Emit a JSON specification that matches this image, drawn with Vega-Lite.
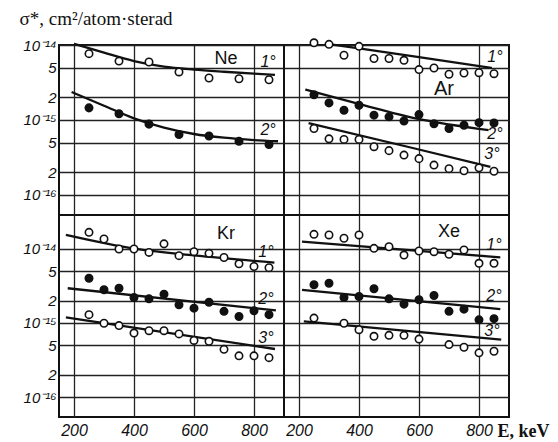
{
"$schema": "https://vega.github.io/schema/vega-lite/v6.json",
"background": "white",
"padding": {"left": 18, "top": 8, "right": 0, "bottom": 0},
"config": {
  "font": "Liberation Sans",
  "view": {"stroke": "#111", "strokeWidth": 2},
  "axis": {"gridColor": "#222", "gridOpacity": 1, "gridWidth": 1.3, "labelColor": "#111", "labelFont": "Liberation Sans", "labelFontStyle": "italic", "labelFontWeight": "normal", "labelOverlap": false, "labelFlush": false, "ticks": false, "domain": false, "grid": true}
},
"datasets": {
  "points": [
    {"gas":"Ne","angle":"1°","E":250,"sigma":7.66e-15},{"gas":"Ne","angle":"1°","E":350,"sigma":6.1e-15},{"gas":"Ne","angle":"1°","E":450,"sigma":5.93e-15},{"gas":"Ne","angle":"1°","E":550,"sigma":4.37e-15},{"gas":"Ne","angle":"1°","E":650,"sigma":3.63e-15},{"gas":"Ne","angle":"1°","E":750,"sigma":3.55e-15},{"gas":"Ne","angle":"1°","E":850,"sigma":3.44e-15},
    {"gas":"Ne","angle":"2°","E":250,"sigma":1.45e-15},{"gas":"Ne","angle":"2°","E":350,"sigma":1.21e-15},{"gas":"Ne","angle":"2°","E":450,"sigma":8.8e-16},{"gas":"Ne","angle":"2°","E":550,"sigma":6.4e-16},{"gas":"Ne","angle":"2°","E":650,"sigma":6.1e-16},{"gas":"Ne","angle":"2°","E":750,"sigma":5.2e-16},{"gas":"Ne","angle":"2°","E":850,"sigma":4.7e-16},

    {"gas":"Ar","angle":"1°","E":250,"sigma":1.07e-14},{"gas":"Ar","angle":"1°","E":300,"sigma":1.02e-14},{"gas":"Ar","angle":"1°","E":350,"sigma":7.3e-15},{"gas":"Ar","angle":"1°","E":400,"sigma":9.6e-15},{"gas":"Ar","angle":"1°","E":450,"sigma":6.6e-15},{"gas":"Ar","angle":"1°","E":500,"sigma":6.6e-15},{"gas":"Ar","angle":"1°","E":550,"sigma":6.25e-15},{"gas":"Ar","angle":"1°","E":600,"sigma":4.7e-15},{"gas":"Ar","angle":"1°","E":650,"sigma":4.93e-15},{"gas":"Ar","angle":"1°","E":700,"sigma":4.07e-15},{"gas":"Ar","angle":"1°","E":750,"sigma":4.23e-15},{"gas":"Ar","angle":"1°","E":800,"sigma":4.27e-15},{"gas":"Ar","angle":"1°","E":850,"sigma":4.14e-15},
    {"gas":"Ar","angle":"2°","E":250,"sigma":2.17e-15},{"gas":"Ar","angle":"2°","E":300,"sigma":1.69e-15},{"gas":"Ar","angle":"2°","E":350,"sigma":1.35e-15},{"gas":"Ar","angle":"2°","E":400,"sigma":1.57e-15},{"gas":"Ar","angle":"2°","E":450,"sigma":1.16e-15},{"gas":"Ar","angle":"2°","E":500,"sigma":1.1e-15},{"gas":"Ar","angle":"2°","E":550,"sigma":9.7e-16},{"gas":"Ar","angle":"2°","E":600,"sigma":1.18e-15},{"gas":"Ar","angle":"2°","E":650,"sigma":8.9e-16},{"gas":"Ar","angle":"2°","E":700,"sigma":7.7e-16},{"gas":"Ar","angle":"2°","E":750,"sigma":8.5e-16},{"gas":"Ar","angle":"2°","E":800,"sigma":9.2e-16},{"gas":"Ar","angle":"2°","E":850,"sigma":9.1e-16},
    {"gas":"Ar","angle":"3°","E":250,"sigma":7.7e-16},{"gas":"Ar","angle":"3°","E":300,"sigma":5.6e-16},{"gas":"Ar","angle":"3°","E":350,"sigma":5.5e-16},{"gas":"Ar","angle":"3°","E":400,"sigma":5.5e-16},{"gas":"Ar","angle":"3°","E":450,"sigma":4.4e-16},{"gas":"Ar","angle":"3°","E":500,"sigma":3.9e-16},{"gas":"Ar","angle":"3°","E":550,"sigma":3.4e-16},{"gas":"Ar","angle":"3°","E":600,"sigma":3.05e-16},{"gas":"Ar","angle":"3°","E":650,"sigma":2.5e-16},{"gas":"Ar","angle":"3°","E":700,"sigma":2.24e-16},{"gas":"Ar","angle":"3°","E":750,"sigma":2.1e-16},{"gas":"Ar","angle":"3°","E":800,"sigma":2.3e-16},{"gas":"Ar","angle":"3°","E":850,"sigma":2.07e-16},

    {"gas":"Kr","angle":"1°","E":250,"sigma":1.66e-14},{"gas":"Kr","angle":"1°","E":300,"sigma":1.35e-14},{"gas":"Kr","angle":"1°","E":350,"sigma":9.9e-15},{"gas":"Kr","angle":"1°","E":400,"sigma":9.9e-15},{"gas":"Kr","angle":"1°","E":450,"sigma":8.9e-15},{"gas":"Kr","angle":"1°","E":500,"sigma":1.16e-14},{"gas":"Kr","angle":"1°","E":550,"sigma":8.05e-15},{"gas":"Kr","angle":"1°","E":600,"sigma":9.1e-15},{"gas":"Kr","angle":"1°","E":650,"sigma":8.65e-15},{"gas":"Kr","angle":"1°","E":700,"sigma":7.6e-15},{"gas":"Kr","angle":"1°","E":750,"sigma":6.25e-15},{"gas":"Kr","angle":"1°","E":800,"sigma":5.75e-15},{"gas":"Kr","angle":"1°","E":850,"sigma":5.55e-15},
    {"gas":"Kr","angle":"2°","E":250,"sigma":4.0e-15},{"gas":"Kr","angle":"2°","E":300,"sigma":2.8e-15},{"gas":"Kr","angle":"2°","E":350,"sigma":2.93e-15},{"gas":"Kr","angle":"2°","E":400,"sigma":2.2e-15},{"gas":"Kr","angle":"2°","E":450,"sigma":2.11e-15},{"gas":"Kr","angle":"2°","E":500,"sigma":2.44e-15},{"gas":"Kr","angle":"2°","E":550,"sigma":1.75e-15},{"gas":"Kr","angle":"2°","E":600,"sigma":1.58e-15},{"gas":"Kr","angle":"2°","E":650,"sigma":1.9e-15},{"gas":"Kr","angle":"2°","E":700,"sigma":1.43e-15},{"gas":"Kr","angle":"2°","E":750,"sigma":1.22e-15},{"gas":"Kr","angle":"2°","E":800,"sigma":1.46e-15},{"gas":"Kr","angle":"2°","E":850,"sigma":1.29e-15},
    {"gas":"Kr","angle":"3°","E":250,"sigma":1.29e-15},{"gas":"Kr","angle":"3°","E":300,"sigma":9.9e-16},{"gas":"Kr","angle":"3°","E":350,"sigma":9.2e-16},{"gas":"Kr","angle":"3°","E":400,"sigma":7.3e-16},{"gas":"Kr","angle":"3°","E":450,"sigma":7.85e-16},{"gas":"Kr","angle":"3°","E":500,"sigma":7.85e-16},{"gas":"Kr","angle":"3°","E":550,"sigma":7.1e-16},{"gas":"Kr","angle":"3°","E":600,"sigma":5.8e-16},{"gas":"Kr","angle":"3°","E":650,"sigma":5.65e-16},{"gas":"Kr","angle":"3°","E":700,"sigma":4.4e-16},{"gas":"Kr","angle":"3°","E":750,"sigma":3.6e-16},{"gas":"Kr","angle":"3°","E":800,"sigma":3.6e-16},{"gas":"Kr","angle":"3°","E":850,"sigma":3.4e-16},

    {"gas":"Xe","angle":"1°","E":250,"sigma":1.56e-14},{"gas":"Xe","angle":"1°","E":300,"sigma":1.53e-14},{"gas":"Xe","angle":"1°","E":350,"sigma":1.38e-14},{"gas":"Xe","angle":"1°","E":400,"sigma":1.53e-14},{"gas":"Xe","angle":"1°","E":450,"sigma":1.01e-14},{"gas":"Xe","angle":"1°","E":500,"sigma":1.06e-14},{"gas":"Xe","angle":"1°","E":550,"sigma":8.2e-15},{"gas":"Xe","angle":"1°","E":600,"sigma":9.3e-15},{"gas":"Xe","angle":"1°","E":650,"sigma":9.1e-15},{"gas":"Xe","angle":"1°","E":700,"sigma":8.4e-15},{"gas":"Xe","angle":"1°","E":750,"sigma":9.6e-15},{"gas":"Xe","angle":"1°","E":800,"sigma":6.35e-15},{"gas":"Xe","angle":"1°","E":850,"sigma":6.35e-15},
    {"gas":"Xe","angle":"2°","E":250,"sigma":3.26e-15},{"gas":"Xe","angle":"2°","E":300,"sigma":3.42e-15},{"gas":"Xe","angle":"2°","E":350,"sigma":2.2e-15},{"gas":"Xe","angle":"2°","E":400,"sigma":2.27e-15},{"gas":"Xe","angle":"2°","E":450,"sigma":2.88e-15},{"gas":"Xe","angle":"2°","E":500,"sigma":2.11e-15},{"gas":"Xe","angle":"2°","E":550,"sigma":1.79e-15},{"gas":"Xe","angle":"2°","E":600,"sigma":2.05e-15},{"gas":"Xe","angle":"2°","E":650,"sigma":2.34e-15},{"gas":"Xe","angle":"2°","E":700,"sigma":1.43e-15},{"gas":"Xe","angle":"2°","E":750,"sigma":1.53e-15},{"gas":"Xe","angle":"2°","E":800,"sigma":1.1e-15},{"gas":"Xe","angle":"2°","E":850,"sigma":1.14e-15},
    {"gas":"Xe","angle":"3°","E":250,"sigma":1.16e-15},{"gas":"Xe","angle":"3°","E":350,"sigma":9.9e-16},{"gas":"Xe","angle":"3°","E":400,"sigma":8.1e-16},{"gas":"Xe","angle":"3°","E":450,"sigma":6.6e-16},{"gas":"Xe","angle":"3°","E":500,"sigma":6.8e-16},{"gas":"Xe","angle":"3°","E":550,"sigma":6.8e-16},{"gas":"Xe","angle":"3°","E":600,"sigma":6.05e-16},{"gas":"Xe","angle":"3°","E":700,"sigma":5.1e-16},{"gas":"Xe","angle":"3°","E":750,"sigma":4.7e-16},{"gas":"Xe","angle":"3°","E":800,"sigma":3.95e-16},{"gas":"Xe","angle":"3°","E":850,"sigma":4.15e-16}
  ],
  "curves": [
    {"gas":"Ne","angle":"1°","E":200,"sigma":1.04e-14},{"gas":"Ne","angle":"1°","E":300,"sigma":7.9e-15},{"gas":"Ne","angle":"1°","E":400,"sigma":6.1e-15},{"gas":"Ne","angle":"1°","E":500,"sigma":5.15e-15},{"gas":"Ne","angle":"1°","E":600,"sigma":4.7e-15},{"gas":"Ne","angle":"1°","E":700,"sigma":4.4e-15},{"gas":"Ne","angle":"1°","E":800,"sigma":4.15e-15},{"gas":"Ne","angle":"1°","E":870,"sigma":4.0e-15},
    {"gas":"Ne","angle":"2°","E":192,"sigma":2.36e-15},{"gas":"Ne","angle":"2°","E":300,"sigma":1.55e-15},{"gas":"Ne","angle":"2°","E":400,"sigma":1.05e-15},{"gas":"Ne","angle":"2°","E":500,"sigma":7.9e-16},{"gas":"Ne","angle":"2°","E":600,"sigma":6.5e-16},{"gas":"Ne","angle":"2°","E":700,"sigma":5.8e-16},{"gas":"Ne","angle":"2°","E":800,"sigma":5.4e-16},{"gas":"Ne","angle":"2°","E":880,"sigma":5.2e-16},
    {"gas":"Ar","angle":"1°","E":288,"sigma":1.04e-14},{"gas":"Ar","angle":"1°","E":400,"sigma":9.0e-15},{"gas":"Ar","angle":"1°","E":600,"sigma":6.9e-15},{"gas":"Ar","angle":"1°","E":843,"sigma":4.93e-15},
    {"gas":"Ar","angle":"2°","E":221,"sigma":2.54e-15},{"gas":"Ar","angle":"2°","E":396,"sigma":1.65e-15},{"gas":"Ar","angle":"2°","E":593,"sigma":1.04e-15},{"gas":"Ar","angle":"2°","E":832,"sigma":7.3e-16},
    {"gas":"Ar","angle":"3°","E":232,"sigma":9.1e-16},{"gas":"Ar","angle":"3°","E":593,"sigma":4.1e-16},{"gas":"Ar","angle":"3°","E":838,"sigma":2.36e-16},
    {"gas":"Kr","angle":"1°","E":173,"sigma":1.53e-14},{"gas":"Kr","angle":"1°","E":401,"sigma":1.0e-14},{"gas":"Kr","angle":"1°","E":600,"sigma":8.1e-15},{"gas":"Kr","angle":"1°","E":868,"sigma":6.5e-15},
    {"gas":"Kr","angle":"2°","E":179,"sigma":2.93e-15},{"gas":"Kr","angle":"2°","E":873,"sigma":1.47e-15},
    {"gas":"Kr","angle":"3°","E":173,"sigma":1.19e-15},{"gas":"Kr","angle":"3°","E":870,"sigma":4.45e-16},
    {"gas":"Xe","angle":"1°","E":210,"sigma":1.24e-14},{"gas":"Xe","angle":"1°","E":871,"sigma":7.64e-15},
    {"gas":"Xe","angle":"2°","E":210,"sigma":2.79e-15},{"gas":"Xe","angle":"2°","E":871,"sigma":1.53e-15},
    {"gas":"Xe","angle":"3°","E":216,"sigma":1.05e-15},{"gas":"Xe","angle":"3°","E":874,"sigma":5.94e-16}
  ],
  "labels": [
    {"gas":"Ne","kind":"gas","text":"Ne","E":707,"sigma":6.5e-15},
    {"gas":"Ne","kind":"angle","text":"1°","E":847,"sigma":5.9e-15},
    {"gas":"Ne","kind":"angle","text":"2°","E":847,"sigma":7.4e-16},
    {"gas":"Ar","kind":"gas","text":"Ar","E":683,"sigma":2.6e-15},
    {"gas":"Ar","kind":"angle","text":"1°","E":853,"sigma":6.9e-15},
    {"gas":"Ar","kind":"angle","text":"2°","E":853,"sigma":6.5e-16},
    {"gas":"Ar","kind":"angle","text":"3°","E":843,"sigma":3.5e-16},
    {"gas":"Kr","kind":"gas","text":"Kr","E":707,"sigma":1.59e-14},
    {"gas":"Kr","kind":"angle","text":"1°","E":840,"sigma":9.1e-15},
    {"gas":"Kr","kind":"angle","text":"2°","E":840,"sigma":2.07e-15},
    {"gas":"Kr","kind":"angle","text":"3°","E":840,"sigma":6.2e-16},
    {"gas":"Xe","kind":"gas","text":"Xe","E":700,"sigma":1.69e-14},
    {"gas":"Xe","kind":"angle","text":"1°","E":850,"sigma":1.13e-14},
    {"gas":"Xe","kind":"angle","text":"2°","E":850,"sigma":2.27e-15},
    {"gas":"Xe","kind":"angle","text":"3°","E":843,"sigma":7.7e-16}
  ]
},
"columns": 2,
"spacing": 0,
"bounds": "flush",
"concat": [
  {
    "width": 225, "height": 170,
    "encoding": {
      "x": {"field": "E", "type": "quantitative", "scale": {"domain": [150, 900], "nice": false, "zero": false}, "axis": {"values": [200, 400, 600, 800], "labels": false, "title": null}},
      "y": {"field": "sigma", "type": "quantitative", "scale": {"type": "log", "domain": [5.4e-17, 1e-14], "nice": false}, "axis": {"values": [1e-16, 2e-16, 5e-16, 1e-15, 2e-15, 5e-15, 1e-14], "labelExpr": "datum.value > 9e-15 ? '10⁻¹⁴' : datum.value > 4e-15 ? '5\u2002' : datum.value > 1.5e-15 ? '2\u2002' : datum.value > 9e-16 ? '10⁻¹⁵' : datum.value > 4e-16 ? '5\u2002' : datum.value > 1.5e-16 ? '2\u2002' : '10⁻¹⁶'", "labelFontSize": 15, "labelPadding": 3, "title": "σ*, cm²/atom·sterad", "titleAngle": 0, "titleAlign": "left", "titleBaseline": "alphabetic", "titleX": -40, "titleY": -21, "titleFont": "Liberation Serif", "titleFontSize": 19, "titleFontWeight": "normal", "titleColor": "#111"}}
    },
    "layer": [
      {"data": {"name": "curves"}, "transform": [{"filter": "datum.gas === 'Ne'"}], "mark": {"type": "line", "color": "#111", "strokeWidth": 2.3, "interpolate": "monotone"}, "encoding": {"detail": {"field": "angle"}}},
      {"data": {"name": "points"}, "transform": [{"filter": "datum.gas === 'Ne'"}], "mark": {"type": "point", "shape": "circle", "filled": true, "size": 55, "stroke": "#111", "strokeWidth": 1.6, "opacity": 1}, "encoding": {"fill": {"field": "angle", "type": "nominal", "scale": {"domain": ["1°", "2°", "3°"], "range": ["white", "#111", "white"]}, "legend": null}}},
      {"data": {"name": "labels"}, "transform": [{"filter": "datum.gas === 'Ne' && datum.kind === 'gas'"}], "mark": {"type": "text", "fontSize": 18, "color": "#111"}, "encoding": {"text": {"field": "text"}}},
      {"data": {"name": "labels"}, "transform": [{"filter": "datum.gas === 'Ne' && datum.kind === 'angle'"}], "mark": {"type": "text", "fontSize": 16, "fontStyle": "italic", "color": "#111"}, "encoding": {"text": {"field": "text"}}}
    ]
  },
  {
    "width": 225, "height": 170,
    "encoding": {
      "x": {"field": "E", "type": "quantitative", "scale": {"domain": [150, 900], "nice": false, "zero": false}, "axis": {"values": [200, 400, 600, 800], "labels": false, "title": null}},
      "y": {"field": "sigma", "type": "quantitative", "scale": {"type": "log", "domain": [5.4e-17, 1e-14], "nice": false}, "axis": {"values": [1e-16, 2e-16, 5e-16, 1e-15, 2e-15, 5e-15, 1e-14], "labels": false, "title": null}}
    },
    "layer": [
      {"data": {"name": "curves"}, "transform": [{"filter": "datum.gas === 'Ar'"}], "mark": {"type": "line", "color": "#111", "strokeWidth": 2.3, "interpolate": "monotone"}, "encoding": {"detail": {"field": "angle"}}},
      {"data": {"name": "points"}, "transform": [{"filter": "datum.gas === 'Ar'"}], "mark": {"type": "point", "shape": "circle", "filled": true, "size": 55, "stroke": "#111", "strokeWidth": 1.6, "opacity": 1}, "encoding": {"fill": {"field": "angle", "type": "nominal", "scale": {"domain": ["1°", "2°", "3°"], "range": ["white", "#111", "white"]}, "legend": null}}},
      {"data": {"name": "labels"}, "transform": [{"filter": "datum.gas === 'Ar' && datum.kind === 'gas'"}], "mark": {"type": "text", "fontSize": 20, "color": "#111"}, "encoding": {"text": {"field": "text"}}},
      {"data": {"name": "labels"}, "transform": [{"filter": "datum.gas === 'Ar' && datum.kind === 'angle'"}], "mark": {"type": "text", "fontSize": 16, "fontStyle": "italic", "color": "#111"}, "encoding": {"text": {"field": "text"}}}
    ]
  },
  {
    "width": 225, "height": 202,
    "encoding": {
      "x": {"field": "E", "type": "quantitative", "scale": {"domain": [150, 900], "nice": false, "zero": false}, "axis": {"values": [200, 400, 600, 800], "labelFontSize": 16, "labelPadding": 5, "title": null}},
      "y": {"field": "sigma", "type": "quantitative", "scale": {"type": "log", "domain": [5.4e-17, 2.84e-14], "nice": false}, "axis": {"values": [1e-16, 2e-16, 5e-16, 1e-15, 2e-15, 5e-15, 1e-14], "labelExpr": "datum.value > 9e-15 ? '10⁻¹⁴' : datum.value > 4e-15 ? '5\u2002' : datum.value > 1.5e-15 ? '2\u2002' : datum.value > 9e-16 ? '10⁻¹⁵' : datum.value > 4e-16 ? '5\u2002' : datum.value > 1.5e-16 ? '2\u2002' : '10⁻¹⁶'", "labelFontSize": 15, "labelPadding": 3, "title": null}}
    },
    "layer": [
      {"data": {"name": "curves"}, "transform": [{"filter": "datum.gas === 'Kr'"}], "mark": {"type": "line", "color": "#111", "strokeWidth": 2.3, "interpolate": "monotone"}, "encoding": {"detail": {"field": "angle"}}},
      {"data": {"name": "points"}, "transform": [{"filter": "datum.gas === 'Kr'"}], "mark": {"type": "point", "shape": "circle", "filled": true, "size": 55, "stroke": "#111", "strokeWidth": 1.6, "opacity": 1}, "encoding": {"fill": {"field": "angle", "type": "nominal", "scale": {"domain": ["1°", "2°", "3°"], "range": ["white", "#111", "white"]}, "legend": null}}},
      {"data": {"name": "labels"}, "transform": [{"filter": "datum.gas === 'Kr' && datum.kind === 'gas'"}], "mark": {"type": "text", "fontSize": 18, "color": "#111"}, "encoding": {"text": {"field": "text"}}},
      {"data": {"name": "labels"}, "transform": [{"filter": "datum.gas === 'Kr' && datum.kind === 'angle'"}], "mark": {"type": "text", "fontSize": 16, "fontStyle": "italic", "color": "#111"}, "encoding": {"text": {"field": "text"}}}
    ]
  },
  {
    "width": 225, "height": 202,
    "encoding": {
      "x": {"field": "E", "type": "quantitative", "scale": {"domain": [150, 900], "nice": false, "zero": false}, "axis": {"values": [200, 400, 600, 800], "labelFontSize": 16, "labelPadding": 5, "title": "E, keV", "titleAngle": 0, "titleAlign": "left", "titleBaseline": "middle", "titleX": 213, "titleY": 14, "titleFont": "Liberation Serif", "titleFontSize": 18, "titleFontWeight": "bold", "titleColor": "#111"}},
      "y": {"field": "sigma", "type": "quantitative", "scale": {"type": "log", "domain": [5.4e-17, 2.84e-14], "nice": false}, "axis": {"values": [1e-16, 2e-16, 5e-16, 1e-15, 2e-15, 5e-15, 1e-14], "labels": false, "title": null}}
    },
    "layer": [
      {"data": {"name": "curves"}, "transform": [{"filter": "datum.gas === 'Xe'"}], "mark": {"type": "line", "color": "#111", "strokeWidth": 2.3, "interpolate": "monotone"}, "encoding": {"detail": {"field": "angle"}}},
      {"data": {"name": "points"}, "transform": [{"filter": "datum.gas === 'Xe'"}], "mark": {"type": "point", "shape": "circle", "filled": true, "size": 55, "stroke": "#111", "strokeWidth": 1.6, "opacity": 1}, "encoding": {"fill": {"field": "angle", "type": "nominal", "scale": {"domain": ["1°", "2°", "3°"], "range": ["white", "#111", "white"]}, "legend": null}}},
      {"data": {"name": "labels"}, "transform": [{"filter": "datum.gas === 'Xe' && datum.kind === 'gas'"}], "mark": {"type": "text", "fontSize": 18, "color": "#111"}, "encoding": {"text": {"field": "text"}}},
      {"data": {"name": "labels"}, "transform": [{"filter": "datum.gas === 'Xe' && datum.kind === 'angle'"}], "mark": {"type": "text", "fontSize": 16, "fontStyle": "italic", "color": "#111"}, "encoding": {"text": {"field": "text"}}}
    ]
  }
]
}
